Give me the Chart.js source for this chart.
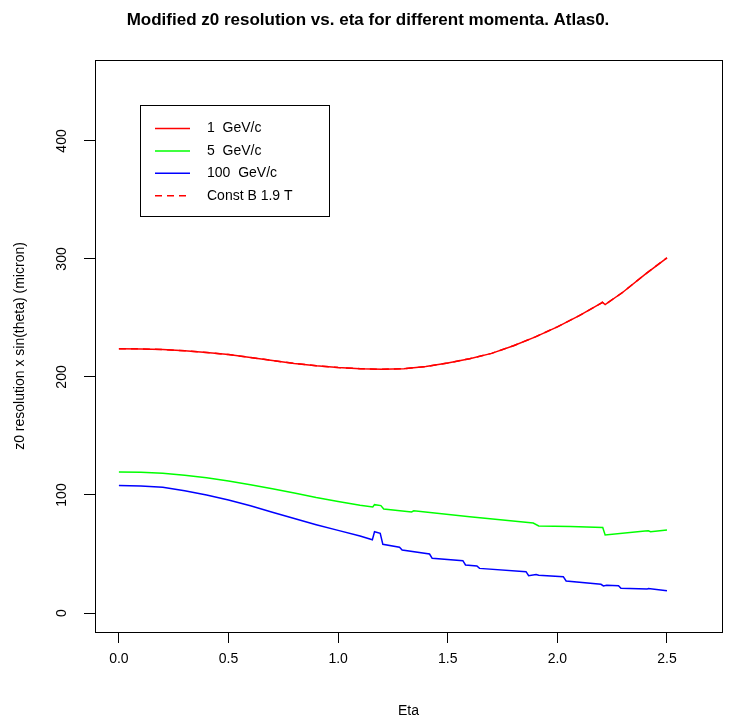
<!DOCTYPE html>
<html>
<head>
<meta charset="utf-8">
<title>z0 resolution vs eta</title>
<script src="https://cdn.jsdelivr.net/npm/chart.js@4.4.1/dist/chart.umd.min.js"></script>
<style>
  body { margin: 0; background: #fff; }
  #wrap { width: 736px; height: 725px; }
</style>
</head>
<body>
<div id="wrap"><canvas id="resChart" width="736" height="725"></canvas></div>
<script>
// tick labels
const etaTicks = [0, 0.5, 1.0, 1.5, 2.0, 2.5];
const resTicks = [0, 100, 200, 300, 400];

// 1 GeV/c
const eta1 = [0, 0.1, 0.2, 0.3, 0.4, 0.5, 0.6, 0.7, 0.8, 0.9, 1.0, 1.1, 1.2, 1.3, 1.4, 1.5, 1.6, 1.7, 1.8, 1.9, 2.0, 2.1, 2.2, 2.205, 2.218, 2.3, 2.4, 2.5];
const res1 = [224, 223.8, 223.2, 222.2, 220.8, 219, 216.5, 214, 211.5, 209.5, 208, 207, 206.5, 207, 208.8, 211.8, 215.5, 220, 226.5, 234, 242.5, 252, 262.5, 263.3, 261.3, 272, 287, 301];

// 5 GeV/c
const eta5 = [0, 0.1, 0.2, 0.3, 0.4, 0.5, 0.6, 0.7, 0.8, 0.9, 1.0, 1.1, 1.158, 1.166, 1.195, 1.208, 1.335, 1.345, 1.6, 1.89, 1.915, 2.06, 2.207, 2.218, 2.4, 2.415, 2.425, 2.5];
const res5 = [119.5, 119.3, 118.4, 116.8, 114.6, 111.8, 108.6, 105.2, 101.7, 97.8, 94.4, 91.3, 89.8, 91.8, 91, 88.2, 85.6, 86.6, 81.6, 76.2, 73.8, 73.2, 72.4, 66.2, 69.4, 69.6, 68.8, 70.3];

// 100 GeV/c
const eta100 = [0, 0.1, 0.2, 0.3, 0.4, 0.5, 0.6, 0.7, 0.8, 0.9, 1.0, 1.1, 1.156, 1.166, 1.192, 1.204, 1.28, 1.292, 1.417, 1.429, 1.569, 1.581, 1.633, 1.645, 1.857, 1.869, 1.903, 1.915, 2.027, 2.04, 2.199, 2.21, 2.225, 2.279, 2.29, 2.41, 2.415, 2.5];
const res100 = [108, 107.6, 106.5, 103.6, 100, 95.8, 90.8, 85.4, 80, 74.8, 70, 65.2, 62, 68.9, 67.5, 58.2, 55.7, 53.4, 50, 46.3, 44.3, 40.7, 39.8, 37.8, 35, 31.6, 32.6, 32, 30.8, 27.1, 24.3, 22.9, 23.5, 23.1, 20.9, 20.3, 20.8, 18.9];

// constant field 1.9 T, lies on the 1 GeV/c curve
const etaB = [0, 0.1, 0.2, 0.3, 0.4, 0.5, 0.6, 0.7, 0.8, 0.9, 1.0, 1.1, 1.2, 1.3, 1.4, 1.5, 1.6, 1.7, 1.8, 1.9, 2.0, 2.1, 2.2, 2.205, 2.218, 2.3, 2.4, 2.5];
const resB = [224, 223.8, 223.2, 222.2, 220.8, 219, 216.5, 214, 211.5, 209.5, 208, 207, 206.5, 207, 208.8, 211.8, 215.5, 220, 226.5, 234, 242.5, 252, 262.5, 263.3, 261.3, 272, 287, 301];

const FONT = "'Liberation Sans', Arial, Helvetica, sans-serif";

function toXY(xs, ys) {
    return xs.map((x, i) => ({ x: x, y: ys[i] }));
}

// R-style frame around the plot region
const boxPlugin = {
    id: 'box',
    afterDraw(chart) {
        const { ctx, chartArea: a } = chart;
        ctx.save();
        ctx.strokeStyle = '#000';
        ctx.lineWidth = 1;
        ctx.strokeRect(Math.round(a.left) + 0.5, Math.round(a.top) + 0.5,
            Math.round(a.right - a.left), Math.round(a.bottom - a.top));
        ctx.restore();
    }
};

// legend box in the upper-left of the plot, like R's legend()
const legendBoxPlugin = {
    id: 'legendBox',
    afterDraw(chart) {
        const { ctx, chartArea: a } = chart;
        const items = chart.data.datasets.filter(d => d.inLegend);
        const x0 = a.left + 45, y0 = a.top + 45;
        const w = 189, h = 111;
        ctx.save();
        ctx.fillStyle = '#fff';
        ctx.fillRect(x0, y0, w, h);
        ctx.strokeStyle = '#000';
        ctx.lineWidth = 1;
        ctx.strokeRect(x0 + 0.5, y0 + 0.5, w, h);
        ctx.font = '14px ' + FONT;
        ctx.textBaseline = 'middle';
        items.forEach((d, i) => {
            const y = y0 + 23.5 + i * 22.4;
            ctx.strokeStyle = d.borderColor;
            ctx.lineWidth = 1.5;
            ctx.setLineDash(d.borderDash || []);
            ctx.beginPath();
            ctx.moveTo(x0 + 15, y);
            ctx.lineTo(x0 + 50, y);
            ctx.stroke();
            ctx.setLineDash([]);
            ctx.fillStyle = '#000';
            ctx.fillText(d.label, x0 + 67, y);
        });
        ctx.restore();
    }
};

const ctx = document.getElementById('resChart').getContext('2d');

new Chart(ctx, {
    type: 'line',
    data: {
        datasets: [
            {
                label: '1  GeV/c',
                data: toXY(eta1, res1),
                borderColor: '#ff0000',
                inLegend: true,
            },
            {
                label: '5  GeV/c',
                data: toXY(eta5, res5),
                borderColor: '#00ff00',
                inLegend: true,
            },
            {
                label: '100  GeV/c',
                data: toXY(eta100, res100),
                borderColor: '#0000ff',
                inLegend: true,
            },
            {
                label: 'Const B 1.9 T',
                data: toXY(etaB, resB),
                borderColor: '#ff0000',
                borderDash: [7, 5],
                inLegend: true,
            },
        ],
    },
    options: {
        responsive: false,
        animation: false,
        devicePixelRatio: 1,
        elements: {
            point: { radius: 0 },
            line: { borderWidth: 1.5, tension: 0, fill: false },
        },
        layout: {
            padding: { left: 14, right: 14, top: 0, bottom: 0 },
        },
        plugins: {
            legend: { display: false },
            tooltip: { enabled: false },
            title: {
                display: true,
                text: 'Modified z0 resolution vs. eta for different momenta. Atlas0.',
                color: '#000',
                font: { family: FONT, size: 17, weight: 'bold' },
                padding: { top: 10, bottom: 29.6 },
            },
        },
        scales: {
            x: {
                type: 'linear',
                min: -0.109,
                max: 2.751,
                afterBuildTicks: (scale) => {
                    scale.ticks = etaTicks.map(v => ({ value: v }));
                },
                afterFit: (scale) => { scale.height = 93; },
                border: { display: false },
                grid: {
                    drawOnChartArea: false,
                    drawTicks: true,
                    tickLength: 11,
                    tickColor: '#000',
                },
                ticks: {
                    autoSkip: false,
                    maxRotation: 0,
                    padding: 8,
                    color: '#000',
                    font: { family: FONT, size: 14 },
                    callback: (v) => Number(v).toFixed(1),
                },
                title: {
                    display: true,
                    text: 'Eta',
                    color: '#000',
                    font: { family: FONT, size: 14 },
                    padding: { top: 0, bottom: 5 },
                },
            },
            y: {
                type: 'linear',
                min: -16.1,
                max: 468.6,
                afterBuildTicks: (scale) => {
                    scale.ticks = resTicks.map(v => ({ value: v }));
                },
                afterFit: (scale) => { scale.width = 81; },
                border: { display: false },
                grid: {
                    drawOnChartArea: false,
                    drawTicks: true,
                    tickLength: 11,
                    tickColor: '#000',
                },
                ticks: {
                    autoSkip: false,
                    minRotation: 90,
                    maxRotation: 90,
                    crossAlign: 'center',
                    padding: 10,
                    color: '#000',
                    font: { family: FONT, size: 14 },
                    callback: (v) => String(v),
                },
                title: {
                    display: true,
                    text: 'z0 resolution x sin(theta) (micron)',
                    color: '#000',
                    font: { family: FONT, size: 14, lineHeight: 0.86 },
                    padding: { top: 0, bottom: 0 },
                },
            },
        },
    },
    plugins: [boxPlugin, legendBoxPlugin],
});
</script>
</body>
</html>
